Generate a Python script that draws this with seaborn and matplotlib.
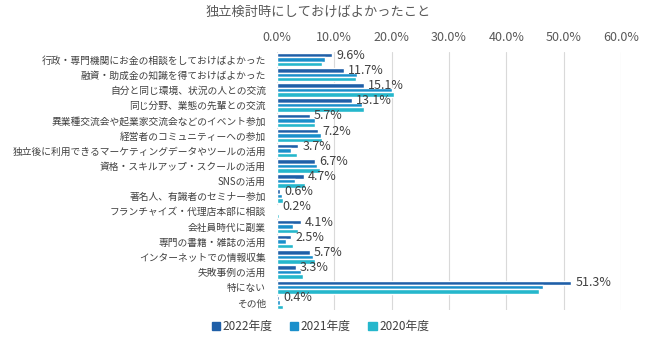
import matplotlib
matplotlib.use("Agg")
import matplotlib.pyplot as plt
import seaborn as sns
import pandas as pd

categories = [
    "行政・専門機関にお金の相談をしておけばよかった",
    "融資・助成金の知識を得ておけばよかった",
    "自分と同じ環境、状況の人との交流",
    "同じ分野、業態の先輩との交流",
    "異業種交流会や起業家交流会などのイベント参加",
    "経営者のコミュニティーへの参加",
    "独立後に利用できるマーケティングデータやツールの活用",
    "資格・スキルアップ・スクールの活用",
    "SNSの活用",
    "著名人、有識者のセミナー参加",
    "フランチャイズ・代理店本部に相談",
    "会社員時代に副業",
    "専門の書籍・雑誌の活用",
    "インターネットでの情報収集",
    "失敗事例の活用",
    "特にない",
    "その他",
]
series_names = ["2022年度", "2021年度", "2020年度"]
v2022 = [9.6, 11.7, 15.1, 13.1, 5.7, 7.2, 3.7, 6.7, 4.7, 0.6, 0.2, 4.1, 2.5, 5.7, 3.3, 51.3, 0.4]
v2021 = [8.4, 13.9, 20.1, 14.9, 6.6, 7.6, 2.4, 6.9, 3.2, 0.8, 0.2, 2.8, 1.6, 6.3, 4.1, 46.4, 0.6]
v2020 = [7.9, 13.8, 20.4, 15.1, 6.6, 7.9, 3.5, 7.5, 4.9, 1.1, 0.3, 3.7, 2.8, 6.6, 4.5, 45.7, 1.0]
x_ticks = [0, 10, 20, 30, 40, 50, 60]
x_ticklabels = ["0.0%", "10.0%", "20.0%", "30.0%", "40.0%", "50.0%", "60.0%"]
title = "独立検討時にしておけばよかったこと"

colors = ["#1f5fa8", "#1a8fcb", "#25b7cc"]

rows = []
for name, vals in zip(series_names, [v2022, v2021, v2020]):
    for c, v in zip(categories, vals):
        rows.append({"category": c, "year": name, "value": v})
df = pd.DataFrame(rows)

sns.set_theme(style="white")
plt.rcParams["font.family"] = ["Noto Sans CJK JP", "DejaVu Sans"]

fig = plt.figure(figsize=(6.5, 3.4), dpi=100)
ax = fig.add_axes([277 / 650, 1 - 310 / 340, (621 - 277) / 650, (310 - 52) / 340])

sns.barplot(data=df, y="category", x="value", hue="year", order=categories,
            hue_order=series_names, palette=colors, orient="h", width=0.88,
            saturation=1, ax=ax, legend=False)

ax.set_xlim(0, 60)
ax.set_xticks(x_ticks)
ax.set_xticklabels(x_ticklabels)
ax.xaxis.tick_top()
ax.set_xlabel("")
ax.set_ylabel("")
ax.tick_params(axis="x", length=0, pad=6, labelsize=9, labelcolor="#595959")
ax.tick_params(axis="y", length=0, pad=8, labelsize=7, labelcolor="#404040")
ax.grid(axis="x", color="#d9d9d9", linewidth=0.8)
ax.set_axisbelow(True)
for s in ax.spines.values():
    s.set_visible(False)

labels = [f"{v:.1f}%" for v in v2022]
ax.bar_label(ax.containers[0], labels=labels, padding=3, fontsize=9, color="#404040")

fig.text(0.49, 0.965, title, ha="center", va="center", fontsize=9.5, color="#595959")

handles = [plt.Rectangle((0, 0), 1, 1, color=c) for c in colors]
fig.legend(handles, series_names, loc="center", bbox_to_anchor=(0.493, 0.04), ncol=3,
           frameon=False, fontsize=8.5, handlelength=0.7, handleheight=0.7,
           handletextpad=0.2, columnspacing=1.5, labelcolor="#404040")

fig.savefig("out.png", dpi=100)
